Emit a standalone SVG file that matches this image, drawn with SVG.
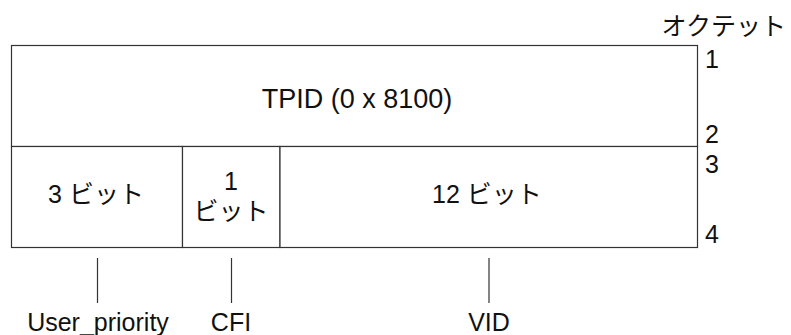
<svg xmlns="http://www.w3.org/2000/svg" width="791" height="335" viewBox="0 0 791 335">
<style>
.box{fill:#fff;stroke:#333;stroke-width:1.2}
.ln{stroke:#333;stroke-width:1.2;fill:none}
.t{font-family:"Liberation Sans","Noto Sans CJK JP",sans-serif;font-size:25px;fill:#111}
.c{text-anchor:middle}
</style>
<rect width="791" height="335" fill="#fff"/>
<g id="octet-label">
<text class="t" x="786" y="35" text-anchor="end">オクテット</text>
<text class="t" x="705" y="68">1</text>
<text class="t" x="705" y="143">2</text>
<text class="t" x="705" y="173">3</text>
<text class="t" x="705" y="243">4</text>
</g>
<g id="tpid">
<rect class="box" x="11.5" y="45.5" width="686" height="101"/>
<text class="t c" x="357" y="108" style="font-size:27px">TPID (0 x 8100)</text>
</g>
<g id="user-priority-field">
<rect class="box" x="11.5" y="146.5" width="171" height="101"/>
<text class="t c" x="96" y="203">3 ビット</text>
</g>
<g id="cfi-field">
<rect class="box" x="182.5" y="146.5" width="97.5" height="101"/>
<text class="t c" x="231" y="190">1</text>
<text class="t c" x="231" y="220">ビット</text>
</g>
<g id="vid-field">
<rect class="box" x="280" y="146.5" width="417.5" height="101"/>
<text class="t c" x="487" y="203">12 ビット</text>
</g>
<g id="connectors">
<line class="ln" x1="97.5" y1="258" x2="97.5" y2="303"/>
<line class="ln" x1="231.5" y1="258" x2="231.5" y2="303"/>
<line class="ln" x1="489" y1="258" x2="489" y2="303"/>
</g>
<g id="labels">
<text class="t c" x="98" y="331">User_priority</text>
<text class="t c" x="231" y="331">CFI</text>
<text class="t c" x="489" y="331">VID</text>
</g>
</svg>
